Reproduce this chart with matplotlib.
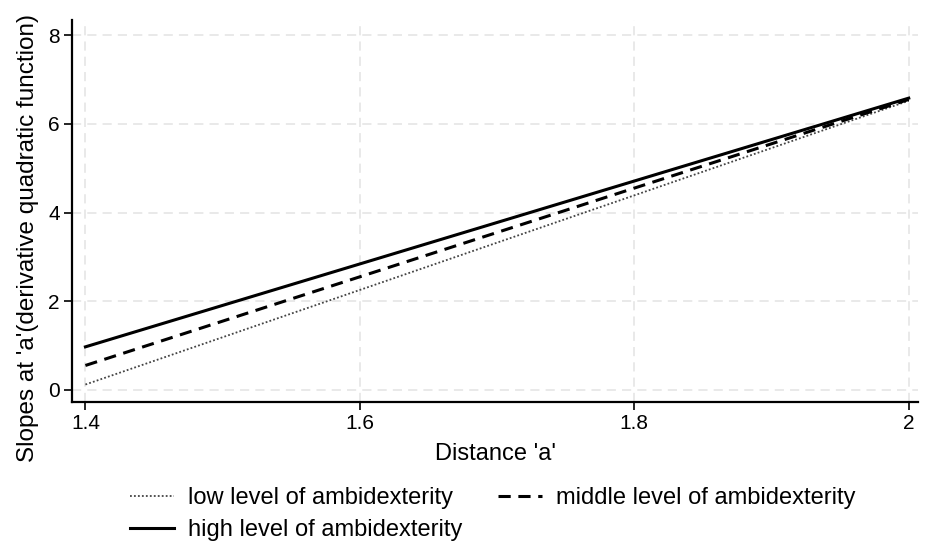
import matplotlib
matplotlib.use("Agg")
import matplotlib.pyplot as plt

plt.rcParams['font.family'] = ['Liberation Sans', 'DejaVu Sans']

# values (straight lines, endpoints only)
distance = [1.4, 2.0]
low_slope = [0.12, 6.52]
mid_slope = [0.55, 6.55]
high_slope = [0.97, 6.58]

x_ticks = [1.4, 1.6, 1.8, 2.0]
x_labels = ['1.4', '1.6', '1.8', '2']
y_ticks = [0, 2, 4, 6, 8]

fig = plt.figure(figsize=(9.28, 5.43), dpi=100)
ax = fig.add_axes([0.078, 0.260, 0.911, 0.703])

low, = ax.plot(distance, low_slope, color='#444444', ls=(0, (1, 1.2)), lw=1.3)
mid, = ax.plot(distance, mid_slope, color='black', ls=(0, (4, 2.5)), lw=2.2)
high, = ax.plot(distance, high_slope, color='black', ls='-', lw=2.2)

ax.set_xlim(1.3905, 2.0066)
ax.set_ylim(-0.27, 8.34)
ax.set_xticks(x_ticks)
ax.set_xticklabels(x_labels)
ax.set_yticks(y_ticks)

ax.grid(True, color='#e3e3e3', ls=(0, (6, 4)), lw=1.1)
ax.set_axisbelow(True)
for side in ('top', 'right'):
    ax.spines[side].set_visible(False)
for side in ('left', 'bottom'):
    ax.spines[side].set_linewidth(1.6)
ax.tick_params(direction='out', length=6, width=1.2, labelsize=15, pad=3)

ax.set_xlabel("Distance 'a'", fontsize=17, labelpad=7)
ax.set_ylabel("Slopes at 'a'(derivative quadratic function)", fontsize=17.5)
ax.yaxis.set_label_coords(-0.039, 0.43)

# column-major fill: order so rows read low/middle then high
fig.legend([low, high, mid],
           ['low level of ambidexterity', 'high level of ambidexterity',
            'middle level of ambidexterity'],
           loc='lower center', bbox_to_anchor=(0.531, -0.036), ncol=2, frameon=False,
           fontsize=17, handlelength=1.87, handletextpad=0.6, columnspacing=1.5,
           labelspacing=0.42)

fig.savefig('out.png', dpi=100)
